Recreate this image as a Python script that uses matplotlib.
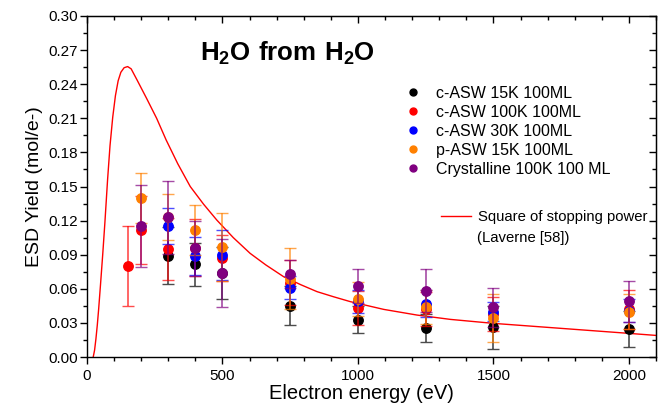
import numpy as np
import matplotlib
matplotlib.use("Agg")
import matplotlib.pyplot as plt
from matplotlib.lines import Line2D
from matplotlib.ticker import MultipleLocator, FormatStrFormatter

plt.rcParams['font.family'] = ['Liberation Sans', 'DejaVu Sans']
plt.rcParams['mathtext.fontset'] = 'custom'
plt.rcParams['mathtext.rm'] = 'Liberation Sans'
plt.rcParams['mathtext.bf'] = 'Liberation Sans:bold'

# --- data ---
# square of stopping power curve (Laverne)
sp_energy = [23, 28, 33, 38, 43, 50, 58, 66, 76, 85, 95, 105, 115, 125, 137, 150,
             163, 185, 220, 257, 292, 335, 381, 430, 479, 540, 602, 660, 726, 790,
             849, 910, 972, 1095, 1218, 1341, 1500, 1750, 2000, 2100]
sp_yield = [0.0, 0.006, 0.016, 0.028, 0.042, 0.064, 0.090, 0.118, 0.156, 0.186,
            0.211, 0.230, 0.243, 0.2505, 0.2545, 0.2555, 0.2535, 0.2436, 0.2275,
            0.210, 0.191, 0.170, 0.150, 0.1345, 0.1205, 0.105, 0.0912, 0.081,
            0.0706, 0.0635, 0.0575, 0.053, 0.0487, 0.0419, 0.0369, 0.0331, 0.0296,
            0.0252, 0.0208, 0.019]

black_E = [300, 400, 500, 750, 1000, 1250, 1500, 2000]
black_y = [0.089, 0.0815, 0.074, 0.0451, 0.033, 0.0255, 0.026, 0.0244]
black_err = [0.025, 0.019, 0.023, 0.017, 0.012, 0.012, 0.019, 0.016]

red_E = [150, 200, 300, 400, 500, 750, 1000, 1250, 1500, 2000]
red_y = [0.080, 0.112, 0.095, 0.096, 0.087, 0.0654, 0.043, 0.042, 0.038, 0.042]
red_err = [0.035, 0.030, 0.027, 0.025, 0.020, 0.020, 0.015, 0.015, 0.015, 0.017]

blue_E = [300, 400, 500, 750, 1000, 1250, 1500, 2000]
blue_y = [0.1155, 0.089, 0.090, 0.061, 0.049, 0.047, 0.040, 0.0407]
blue_err = [0.016, 0.017, 0.022, 0.010, 0.010, 0.012, 0.008, 0.010]

orange_E = [200, 300, 400, 500, 750, 1000, 1250, 1500, 2000]
orange_y = [0.140, 0.123, 0.112, 0.097, 0.069, 0.0507, 0.0443, 0.034, 0.040]
orange_err = [0.022, 0.020, 0.022, 0.030, 0.027, 0.015, 0.015, 0.021, 0.015]

purple_E = [200, 300, 400, 500, 750, 1000, 1250, 1500, 2000]
purple_y = [0.115, 0.123, 0.0956, 0.0736, 0.073, 0.0624, 0.0583, 0.0437, 0.049]
purple_err = [0.036, 0.032, 0.024, 0.030, 0.012, 0.015, 0.019, 0.017, 0.018]

series = [
    ("c-ASW 15K 100ML", "black", black_E, black_y, black_err),
    ("c-ASW 100K 100ML", "#ff0000", red_E, red_y, red_err),
    ("c-ASW 30K 100ML", "#0000ff", blue_E, blue_y, blue_err),
    ("p-ASW 15K 100ML", "#ff8000", orange_E, orange_y, orange_err),
    ("Crystalline 100K 100 ML", "#800080", purple_E, purple_y, purple_err),
]

fig = plt.figure(figsize=(6.62, 4.09), dpi=100)
ax = fig.add_axes([0.1314, 0.1271, 0.8596, 0.8338])

ax.plot(sp_energy, sp_yield, color="red", lw=1.0, zorder=2)

handles = []
for i, (name, col, E, y, err) in enumerate(series):
    ax.errorbar(E, y, yerr=err, fmt="none", ecolor=col, elinewidth=1.2,
                capsize=4, capthick=1.0, alpha=0.7, zorder=3 + i)
    ax.plot(E, y, "o", color=col, ms=6.8, mec=col, zorder=3 + i)
    handles.append(Line2D([], [], ls="none", marker="o", color=col, ms=5))

leg1 = ax.legend(handles, [s[0] for s in series], loc="upper left",
                 bbox_to_anchor=(0.534, 0.837), frameon=False, fontsize=11.5,
                 handlelength=1.0, handletextpad=0.9, labelspacing=0.25)
ax.add_artist(leg1)
sp_handle = Line2D([], [], color="red", lw=1.0)
ax.legend([sp_handle], ["Square of stopping power"], loc="upper left",
          bbox_to_anchor=(0.598, 0.47), frameon=False, fontsize=10.75,
          handlelength=2.0, handletextpad=0.5)
ax.text(0.6854, 0.349, "(Laverne [58])", transform=ax.transAxes,
        fontsize=10.75, ha="left", va="center")

ax.text(0.353, 0.89, r"$\mathbf{H_2O\ from\ H_2O}$", transform=ax.transAxes,
        fontsize=18.6, ha="center", va="center")

ax.set_xlim(0, 2100)
ax.set_ylim(0, 0.30)
ax.xaxis.set_major_locator(MultipleLocator(500))
ax.xaxis.set_minor_locator(MultipleLocator(100))
ax.yaxis.set_major_locator(MultipleLocator(0.03))
ax.yaxis.set_minor_locator(MultipleLocator(0.015))
ax.yaxis.set_major_formatter(FormatStrFormatter("%.2f"))
ax.tick_params(which="major", direction="out", length=5, width=1, labelsize=11)
ax.tick_params(which="minor", direction="out", length=3, width=1)
ax.tick_params(axis="y", which="major", pad=1.5)

top = ax.secondary_xaxis("top")
top.xaxis.set_major_locator(MultipleLocator(500))
top.xaxis.set_minor_locator(MultipleLocator(100))
top.tick_params(which="major", direction="in", length=5, width=1, labeltop=False)
top.tick_params(which="minor", direction="in", length=3, width=1)
right = ax.secondary_yaxis("right")
right.yaxis.set_major_locator(MultipleLocator(0.03))
right.yaxis.set_minor_locator(MultipleLocator(0.015))
right.tick_params(which="major", direction="in", length=5, width=1, labelright=False)
right.tick_params(which="minor", direction="in", length=3, width=1)

for sp in ax.spines.values():
    sp.set_linewidth(1.0)

ax.set_xlabel("Electron energy (eV)", fontsize=14.5)
ax.xaxis.set_label_coords(0.4824, -0.08)
ax.set_ylabel("ESD Yield (mol/e-)", fontsize=14, labelpad=3.5)

fig.savefig("out.png", dpi=100)
